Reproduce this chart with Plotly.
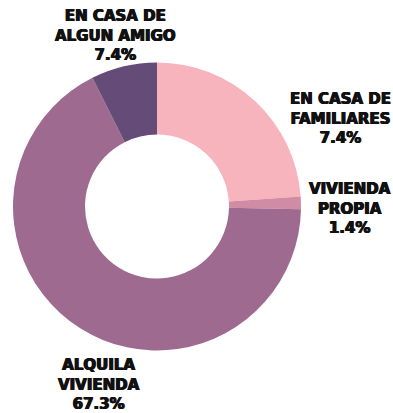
import plotly.graph_objects as go

# Where respondents live (share of answers), clockwise from 12 o'clock
categories = ["EN CASA DE<br>FAMILIARES", "VIVIENDA<br>PROPIA", "ALQUILA<br>VIVIENDA", "EN CASA DE<br>ALGUN AMIGO"]
values = [23.9, 1.4, 67.3, 7.4]
pct_labels = ["7.4%", "1.4%", "67.3%", "7.4%"]
colors = ["#F7B4BC", "#D08CA5", "#9E6A8F", "#654B78"]

W, H = 393, 413
cx, cy, r = 157, 206.5, 144

fig = go.Figure(go.Pie(
    labels=categories,
    values=values,
    sort=False,
    direction="clockwise",
    rotation=0,
    hole=0.5,
    textinfo="none",
    marker=dict(colors=colors, line=dict(width=0)),
    domain=dict(x=[(cx - r) / W, (cx + r) / W], y=[(H - cy - r) / H, (H - cy + r) / H]),
    showlegend=False,
))

# outside label block centres (pixels from top-left)
label_pos = [(340, 118), (350, 209), (99, 384), (115, 35)]
for cat, pct, (lx, ly) in zip(categories, pct_labels, label_pos):
    fig.add_annotation(
        x=lx / W, y=1 - ly / H, xref="paper", yref="paper",
        text=f"<b>{cat}<br>{pct}</b>", showarrow=False,
        xanchor="center", yanchor="middle", align="center",
        font=dict(family="DejaVu Sans", size=15, color="#111111",
                  shadow="0.6px 0 0 #111111, -0.6px 0 0 #111111, 0 0.3px 0 #111111"),
    )

fig.update_layout(
    width=W, height=H,
    margin=dict(l=0, r=0, t=0, b=0),
    paper_bgcolor="white", plot_bgcolor="white",
)

fig.write_html("out.html")
